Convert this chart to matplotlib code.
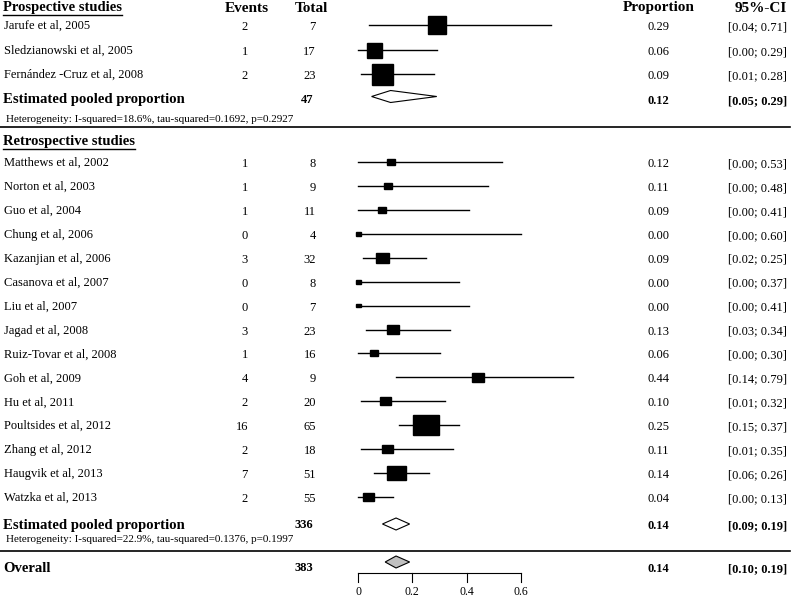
import matplotlib
matplotlib.use("Agg")
import matplotlib.pyplot as plt
import matplotlib.transforms as mtransforms
from matplotlib.patches import Rectangle, Polygon

plt.rcParams['font.family'] = ['Liberation Serif', 'DejaVu Serif']

# ---- datos ----
pro_studies = ["Jarufe et al, 2005", "Sledzianowski et al, 2005", "Fernández -Cruz et al, 2008"]
pro_events = [2, 1, 2]
pro_total = [7, 17, 23]
pro_prop = [0.29, 0.06, 0.09]
pro_lo = [0.04, 0.00, 0.01]
pro_hi = [0.71, 0.29, 0.28]
pro_weight = [18, 15, 21]

retro_studies = ["Matthews et al, 2002", "Norton et al, 2003", "Guo et al, 2004", "Chung et al, 2006",
                 "Kazanjian et al, 2006", "Casanova et al, 2007", "Liu et al, 2007", "Jagad et al, 2008",
                 "Ruiz-Tovar et al, 2008", "Goh et al, 2009", "Hu et al, 2011", "Poultsides et al, 2012",
                 "Zhang et al, 2012", "Haugvik et al, 2013", "Watzka et al, 2013"]
retro_events = [1, 1, 1, 0, 3, 0, 0, 3, 1, 4, 2, 16, 2, 7, 2]
retro_total = [8, 9, 11, 4, 32, 8, 7, 23, 16, 9, 20, 65, 18, 51, 55]
retro_prop = [0.12, 0.11, 0.09, 0.00, 0.09, 0.00, 0.00, 0.13, 0.06, 0.44, 0.10, 0.25, 0.11, 0.14, 0.04]
retro_lo = [0.00, 0.00, 0.00, 0.00, 0.02, 0.00, 0.00, 0.03, 0.00, 0.14, 0.01, 0.15, 0.01, 0.06, 0.00]
retro_hi = [0.53, 0.48, 0.41, 0.60, 0.25, 0.37, 0.41, 0.34, 0.30, 0.79, 0.32, 0.37, 0.35, 0.26, 0.13]
retro_weight = [8, 8, 8, 5, 13, 5, 5, 12, 8, 12, 11, 26, 11, 19, 11]

pooled_label = "Estimated pooled proportion"
pro_pooled = (0.12, 0.05, 0.29, 47)
retro_pooled = (0.14, 0.09, 0.19, 336)
overall = (0.14, 0.10, 0.19, 383)
pro_het = "Heterogeneity: I-squared=18.6%, tau-squared=0.1692, p=0.2927"
retro_het = "Heterogeneity: I-squared=22.9%, tau-squared=0.1376, p=0.1997"
ticks = [0, 0.2, 0.4, 0.6]

# ---- figura ----
W, H = 798, 601
x0_px, scale = 358, 271.7        # posicion de x=0 y pixeles por unidad
fig = plt.figure(figsize=(W / 100, H / 100), dpi=100)
ax = fig.add_axes([0, 0, 1, 1])
ax.set_xlim(-x0_px / scale, (W - x0_px) / scale)
ax.set_ylim(H, 0)
ax.axis('off')
tr = mtransforms.blended_transform_factory(ax.transAxes, ax.transData)

def txt(px, y, s, ha='left', size=9, bold=False):
    return ax.text(px / W, y, s, transform=tr, ha=ha, va='center', fontsize=size,
                   fontweight='bold' if bold else 'normal')

def header(y, s):
    t = txt(3, y, s, size=10.5, bold=True)
    fig.canvas.draw()
    bb = t.get_window_extent()
    ax.plot([bb.x0 / W, bb.x1 / W], [y + 7, y + 7], transform=tr, color='black', lw=1)

def study_rows(ys, names, ev, tot, p, lo, hi, wt, hscale):
    for y, n, e, t, pr, l, h, w in zip(ys, names, ev, tot, p, lo, hi, wt):
        ax.plot([l, h], [y, y], color='black', lw=1, zorder=2)
        bw = w / scale
        bh = w * hscale
        ax.add_patch(Rectangle((pr - bw / 2, y - bh / 2), bw, bh, color='black', zorder=3))
        txt(4, y + 1, n)
        txt(248, y + 2, str(e), ha='right')
        txt(316, y + 2, str(t), ha='right')
        txt(658, y + 2, f"{pr:.2f}", ha='center')
        txt(787, y + 2, f"[{l:.2f}; {h:.2f}]", ha='right')

def diamond(y, est, lo, hi, fc):
    ax.add_patch(Polygon([[lo, y], [est, y - 6], [hi, y], [est, y + 6]], closed=True,
                         facecolor=fc, edgecolor='black', lw=0.8, zorder=3))

def pooled(y_d, y_t, vals, label, fc='white'):
    est, lo, hi, n = vals
    diamond(y_d, est, lo, hi, fc)
    txt(3, y_t, label, size=10.6, bold=True)
    txt(313, y_t, str(n), ha='right', bold=True)
    txt(658, y_t + 1, f"{est:.2f}", ha='center', bold=True)
    txt(787, y_t + 1, f"[{lo:.2f}; {hi:.2f}]", ha='right', bold=True)

# encabezados
header(8, "Prospective studies")
txt(247, 8, "Events", ha='center', size=11, bold=True)
txt(311, 8, "Total", ha='center', size=11, bold=True)
txt(659, 8, "Proportion", ha='center', size=11, bold=True)
txt(787, 8, "95%-CI", ha='right', size=11, bold=True)

pro_y = [25, 50, 74]
study_rows(pro_y, pro_studies, pro_events, pro_total, pro_prop, pro_lo, pro_hi, pro_weight, 1.0)
pooled(96.5, 100, pro_pooled, pooled_label)
txt(6, 119, pro_het, size=8)
ax.plot([0, 790 / W], [126.5, 126.5], transform=tr, color='black', lw=1.2)

header(142, "Retrospective studies")
retro_y = [162 + 23.93 * i for i in range(len(retro_studies))]
study_rows(retro_y, retro_studies, retro_events, retro_total, retro_prop, retro_lo, retro_hi,
           retro_weight, 0.76)
pooled(524, 525, retro_pooled, pooled_label)
txt(6, 540, retro_het, size=8)
ax.plot([0, 790 / W], [551, 551], transform=tr, color='black', lw=1.2)

pooled(562, 568, overall, "Overall", fc='#c0c0c0')

# eje
ax.plot([ticks[0], ticks[-1]], [573, 573], color='black', lw=0.8)
for tk in ticks:
    ax.plot([tk, tk], [573, 582], color='black', lw=0.8)
    ax.text(tk, 592, f"{tk:g}", ha='center', va='center', fontsize=8.5)

fig.savefig("out.png", dpi=100)
